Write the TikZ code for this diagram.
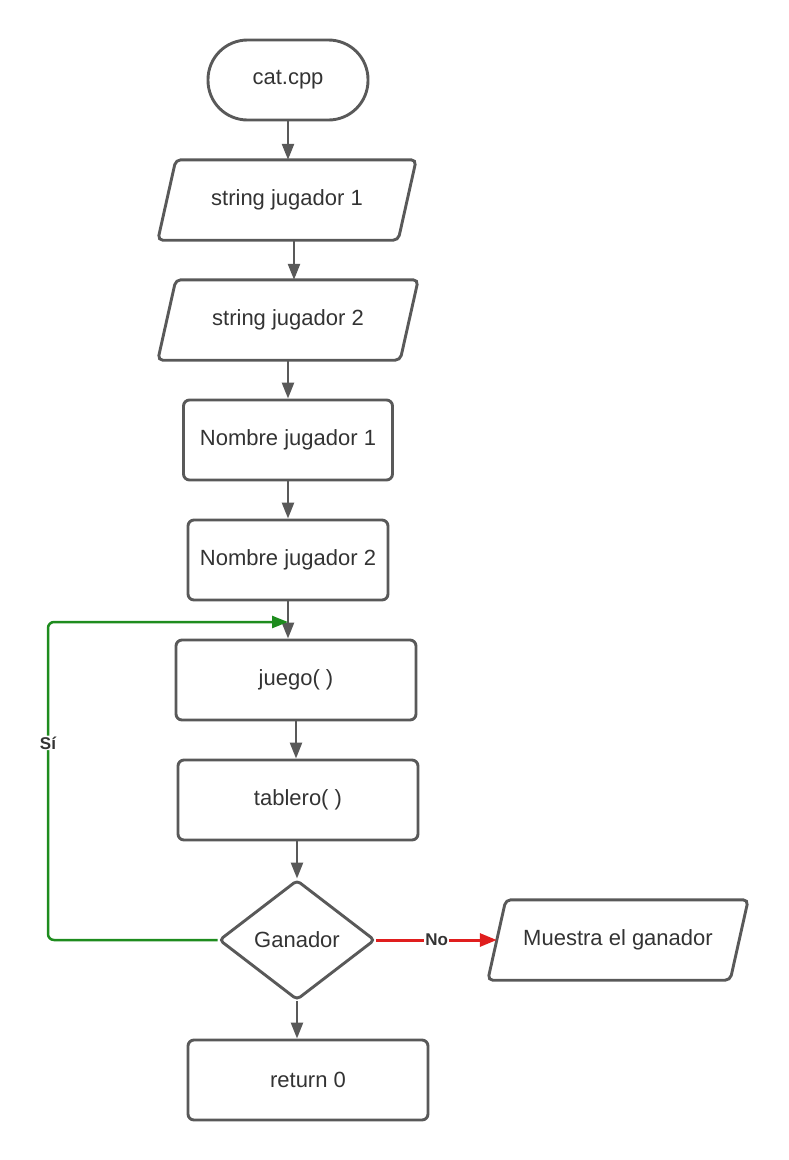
\documentclass[tikz,border=0pt]{standalone}
\usepackage{fontspec}
\setmainfont{Liberation Sans}
\usetikzlibrary{arrows.meta,shapes.geometric}
\definecolor{edge}{HTML}{595959}
\definecolor{txt}{HTML}{333333}
\definecolor{yesline}{HTML}{1E8C1E}
\definecolor{noline}{HTML}{E01E1E}
\begin{document}
\begin{tikzpicture}[x=1pt,y=-1pt,
  every node/.style={font=\fontsize{22}{26}\selectfont, text=txt, inner sep=0pt},
  procbox/.style={draw=edge, line width=2.9pt, rounded corners=6pt, minimum height=80pt},
  termbox/.style={draw=edge, line width=2.9pt, rounded corners=39.5pt, minimum height=80pt, minimum width=160pt},
  iobox/.style={minimum height=80pt},
  ioshape/.style={draw=edge, line width=2.9pt, rounded corners=5pt},
  decision/.style={diamond, draw=edge, line width=2.9pt, rounded corners=4pt,
                   minimum width=156pt, minimum height=120pt},
  tip/.style={-{Triangle[length=16pt,width=12pt]}},
  flow/.style={draw=edge, line width=2.5pt, tip},
  yesflow/.style={draw=yesline, line width=2.5pt, rounded corners=6pt, tip},
  noflow/.style={draw=noline, line width=3pt, -{Triangle[length=17pt,width=13pt]}},
  lbl/.style={fill=white, font=\bfseries\fontsize{17}{19}\selectfont, inner sep=1pt}
]
\useasboundingbox (0,0) rectangle (789,1160);

% start terminal
\node[termbox] (start) at (288,80) {cat.cpp};

% input steps
\node[iobox, minimum width=258pt] (s1) at (287,200) {string jugador 1};
\draw[ioshape] ([xshift=18pt]s1.north west) -- (s1.north east) -- ([xshift=-18pt]s1.south east) -- (s1.south west) -- cycle;
\node[iobox, minimum width=260pt] (s2) at (288,320) {string jugador 2};
\draw[ioshape] ([xshift=18pt]s2.north west) -- (s2.north east) -- ([xshift=-18pt]s2.south east) -- (s2.south west) -- cycle;

% processes
\node[procbox, minimum width=209pt] (n1) at (288,440) {Nombre jugador 1};
\node[procbox, minimum width=200pt] (n2) at (288,560) {Nombre jugador 2};
\node[procbox, minimum width=240pt] (juego) at (296,680) {juego( )};
\node[procbox, minimum width=240pt] (tab) at (298,800) {tablero( )};
\node[decision] (dia) at (297,940) {Ganador};
\node[iobox, minimum width=260pt] (out) at (618,940) {Muestra el ganador};
\draw[ioshape] ([xshift=18pt]out.north west) -- (out.north east) -- ([xshift=-18pt]out.south east) -- (out.south west) -- cycle;
\node[procbox, minimum width=240pt] (ret) at (308,1080) {return 0};

% main flow
\draw[flow] (start.south) -- (start.south |- s1.north);
\draw[flow] ([xshift=7pt]s1.south) -- ([xshift=6pt]s2.north);
\draw[flow] (s2.south) -- (s2.south |- n1.north);
\draw[flow] (n1.south) -- (n1.south |- n2.north);
\draw[flow] (n2.south) -- (n2.south |- juego.north);
\draw[flow] (juego.south) -- (juego.south |- tab.north);
\draw[flow] (dia.north |- tab.south) -- (dia.north);
\draw[flow] (dia.south) -- (dia.south |- ret.north);

% loop back while there is no winner yet
\coordinate (merge) at (288,622);
\draw[yesflow] (dia.west) -- (48,940) |- node[lbl, pos=0.31] {Sí} (merge);

% winner found
\draw[noflow] (dia.east) -- node[lbl] {No} ([xshift=9pt]out.west);
\end{tikzpicture}
\end{document}
